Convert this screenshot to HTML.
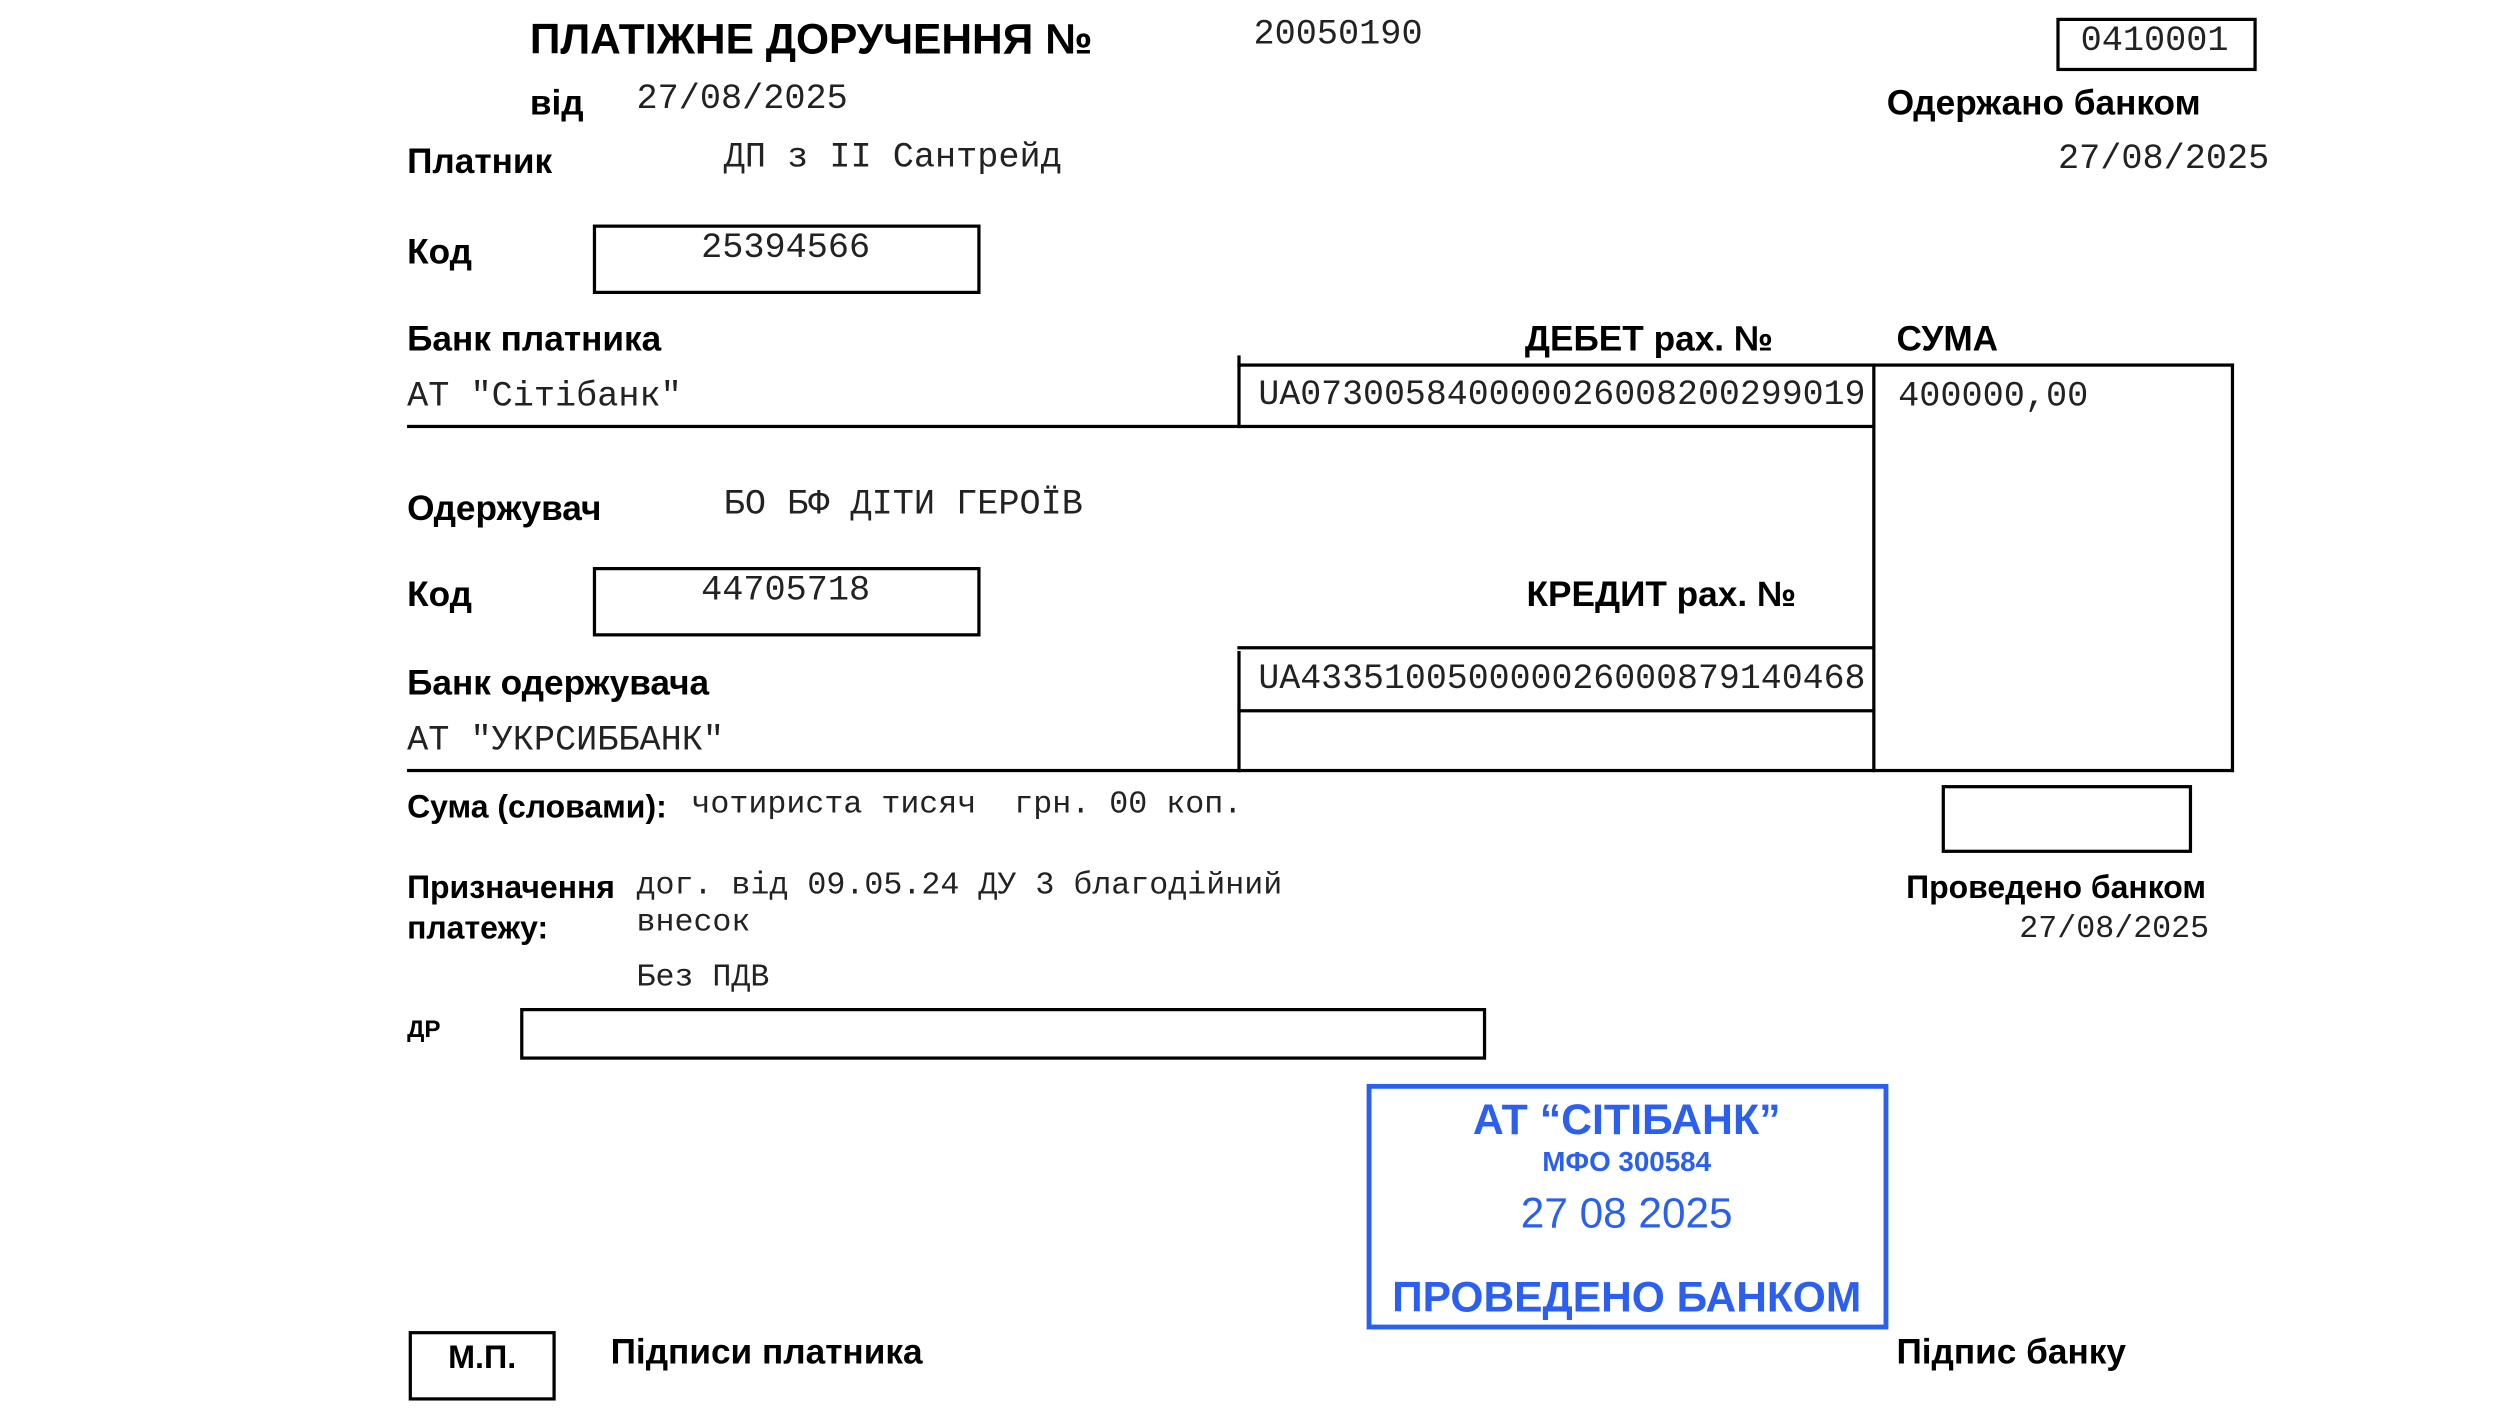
<!DOCTYPE html>
<html><head><meta charset="utf-8"><style>
html,body{margin:0;padding:0;background:#fff;}
body{width:2520px;height:1417px;overflow:hidden;position:relative;}
#w{position:absolute;left:0;top:0;width:1560px;height:877px;transform:scale(1.61538);transform-origin:0 0;}
.t{position:absolute;white-space:pre;line-height:1;}
.b{font-family:"Liberation Sans",sans-serif;font-weight:bold;font-size:21.8px;color:#000;}
.m{font-family:"Liberation Mono",monospace;font-size:21.8px;color:#222;}
.s{font-size:19.6px;}
.box{position:absolute;border:2px solid #000;box-sizing:border-box;}
.h{position:absolute;height:2px;background:#000;}
.v{position:absolute;width:2px;background:#000;}
.bl{color:#2b5ff0;font-family:"Liberation Sans",sans-serif;text-align:center;position:absolute;left:846px;width:322px;line-height:1;}
</style></head><body><div id="w">
<div class="t b" style="left:328px;top:11px;font-size:26.3px">ПЛАТІЖНЕ ДОРУЧЕННЯ №</div>
<div class="t m" style="left:776px;top:11px">20050190</div>
<div class="box" style="left:1273px;top:11px;width:124px;height:33px"></div>
<div class="t m" style="left:1288px;top:15px">0410001</div>
<div class="t b" style="left:328px;top:53px">від</div>
<div class="t m" style="left:394px;top:51px">27/08/2025</div>
<div class="t b" style="left:1168px;top:53px">Одержано банком</div>
<div class="t b" style="left:252px;top:89px">Платник</div>
<div class="t m" style="left:448px;top:87px">ДП з II Сантрейд</div>
<div class="t m" style="left:1274px;top:88px">27/08/2025</div>
<div class="t b" style="left:252px;top:145px">Код</div>
<div class="box" style="left:367px;top:139px;width:240px;height:43px"></div>
<div class="t m" style="left:434px;top:143px">25394566</div>
<div class="t b" style="left:252px;top:199px">Банк платника</div>
<div class="t b" style="left:944px;top:199px">ДЕБЕТ рах. №</div>
<div class="t b" style="left:1174px;top:199px">СУМА</div>
<div class="t m" style="left:252px;top:235px">АТ "Сітібанк"</div>
<div class="v" style="left:766px;top:220px;height:45px"></div>
<div class="h" style="left:766px;top:225px;width:617px"></div>
<div class="t m" style="left:779px;top:235px;font-size:21.6px">UA073005840000026008200299019</div>
<div class="v" style="left:1159px;top:225px;height:253px"></div>
<div class="v" style="left:1381px;top:225px;height:253px"></div>
<div class="t m" style="left:1175px;top:235px">400000,00</div>
<div class="h" style="left:252px;top:263px;width:908px"></div>
<div class="t b" style="left:252px;top:304px">Одержувач</div>
<div class="t m" style="left:448px;top:302px">БО БФ ДІТИ ГЕРОЇВ</div>
<div class="t b" style="left:252px;top:357px">Код</div>
<div class="box" style="left:367px;top:351px;width:240px;height:43px"></div>
<div class="t m" style="left:434px;top:355px">44705718</div>
<div class="t b" style="left:945px;top:357px">КРЕДИТ рах. №</div>
<div class="h" style="left:766px;top:400px;width:394px"></div>
<div class="v" style="left:766px;top:403px;height:75px"></div>
<div class="t m" style="left:779px;top:411px;font-size:21.6px">UA433510050000026000879140468</div>
<div class="h" style="left:766px;top:439px;width:394px"></div>
<div class="t b" style="left:252px;top:412px">Банк одержувача</div>
<div class="t m" style="left:252px;top:448px">АТ "УКРСИББАНК"</div>
<div class="h" style="left:252px;top:476px;width:1131px"></div>
<div class="t b" style="left:252px;top:491px;font-size:19.8px">Сума (словами):</div>
<div class="t m s" style="left:428px;top:489px">чотириста тисяч  грн. 00 коп.</div>
<div class="box" style="left:1202px;top:486px;width:155px;height:42px"></div>
<div class="t b" style="left:252px;top:541px;font-size:19.8px">Призначення</div>
<div class="t b" style="left:252px;top:566px;font-size:19.8px">платежу:</div>
<div class="t m s" style="left:394px;top:539px">дог. від 09.05.24 ДУ 3 благодійний</div>
<div class="t m s" style="left:394px;top:562px">внесок</div>
<div class="t m s" style="left:394px;top:596px">Без ПДВ</div>
<div class="t b" style="left:1180px;top:541px;font-size:19.8px">Проведено банком</div>
<div class="t m s" style="left:1250px;top:566px">27/08/2025</div>
<div class="t b" style="left:252px;top:630px;font-size:15px">ДР</div>
<div class="box" style="left:322px;top:624px;width:598px;height:32px"></div>
<div class="box" style="left:846px;top:671px;width:323px;height:152px;border:3px solid #2b5ff0"></div>
<div class="bl" style="top:680px;font-size:26.5px;font-weight:bold">АТ “СІТІБАНК”</div>
<div class="bl" style="top:711px;font-size:17.2px;font-weight:bold">МФО 300584</div>
<div class="bl" style="top:738px;font-size:26.2px">27 08 2025</div>
<div class="bl" style="top:790px;font-size:26.3px;font-weight:bold">ПРОВЕДЕНО БАНКОМ</div>
<div class="box" style="left:253px;top:824px;width:91px;height:43px"></div>
<div class="t b" style="left:253px;top:831px;width:91px;text-align:center;font-size:20px">М.П.</div>
<div class="t b" style="left:378px;top:826px">Підписи платника</div>
<div class="t b" style="left:1174px;top:826px">Підпис банку</div>
</div></body></html>
